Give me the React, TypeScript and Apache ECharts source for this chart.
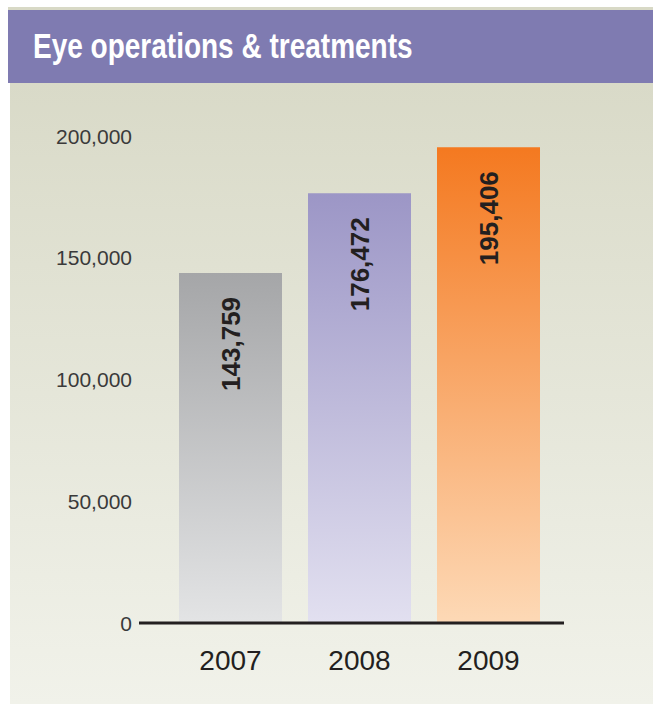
import React, { useEffect, useRef } from "react";
import * as echarts from "echarts";

const title = "Eye operations & treatments";
const categories = ["2007", "2008", "2009"];
const values = [143759, 176472, 195406];
const yTicks = [0, 50000, 100000, 150000, 200000];
const barTopColors = ["#a5a6a8", "#9c96c6", "#f47920"];
const barBottomColors = ["#e3e4e5", "#e2e0f0", "#fdd9b6"];

const fmt = (v: number) => v.toLocaleString("en-US");

export default function App() {
  const ref = useRef<HTMLDivElement>(null);
  useEffect(() => {
    document.body.style.margin = "0";
    const chart = echarts.init(ref.current!, null, { renderer: "svg" });
    const gridLeft = 166;
    const gridTop = 136;
    const gridW = 387;
    const gridH = 487;
    chart.setOption({
      animation: false,
      backgroundColor: "#ffffff",
      textStyle: { fontFamily: "Liberation Sans, Arial, sans-serif" },
      graphic: [
        { type: "rect", z: -10, shape: { x: 8, y: 7, width: 645, height: 3 }, style: { fill: "#d8d9c6" } },
        { type: "rect", z: -10, shape: { x: 8, y: 10, width: 645, height: 73 }, style: { fill: "#7f7bb1" } },
        {
          type: "rect",
          z: -10,
          shape: { x: 10, y: 83, width: 643, height: 621 },
          style: {
            fill: new echarts.graphic.LinearGradient(0, 0, 0, 1, [
              { offset: 0, color: "#d9dac8" },
              { offset: 1, color: "#f1f2ea" },
            ]),
          },
        },
        {
          type: "text",
          z: 10,
          x: 33,
          y: 46,
          scaleY: 1.25,
          style: {
            text: title,
            fill: "#ffffff",
            font: "bold 28px 'Liberation Sans', Arial, sans-serif",
            verticalAlign: "middle",
            align: "left",
          },
        },
        {
          type: "line",
          z: 100,
          shape: { x1: 139, y1: gridTop + gridH, x2: 564, y2: gridTop + gridH },
          style: { stroke: "#231f20", lineWidth: 3 },
        },
      ],
      grid: { left: gridLeft, top: gridTop, width: gridW, height: gridH, containLabel: false },
      xAxis: {
        type: "category",
        data: categories,
        axisLine: { show: false },
        axisTick: { show: false },
        axisLabel: { color: "#231f20", fontSize: 28, margin: 23 },
      },
      yAxis: {
        type: "value",
        min: yTicks[0],
        max: yTicks[yTicks.length - 1],
        interval: 50000,
        splitLine: { show: false },
        axisLine: { show: false },
        axisTick: { show: false },
        axisLabel: { color: "#3a3a3a", fontSize: 21, margin: 34, formatter: (v: number) => fmt(v) },
      },
      series: [
        {
          type: "bar",
          barWidth: 103,
          data: values.map((v, i) => ({
            value: v,
            itemStyle: {
              color: new echarts.graphic.LinearGradient(0, 0, 0, 1, [
                { offset: 0, color: barTopColors[i] },
                { offset: 1, color: barBottomColors[i] },
              ]),
            },
          })),
          label: {
            show: true,
            position: "insideTop",
            rotate: 90,
            align: "right",
            verticalAlign: "middle",
            distance: 24,
            fontSize: 26,
            fontWeight: "bold",
            color: "#231f20",
            formatter: (p: any) => fmt(p.value),
          },
        },
      ],
    });
    return () => chart.dispose();
  }, []);
  return <div ref={ref} style={{ width: 653, height: 704 }} />;
}
